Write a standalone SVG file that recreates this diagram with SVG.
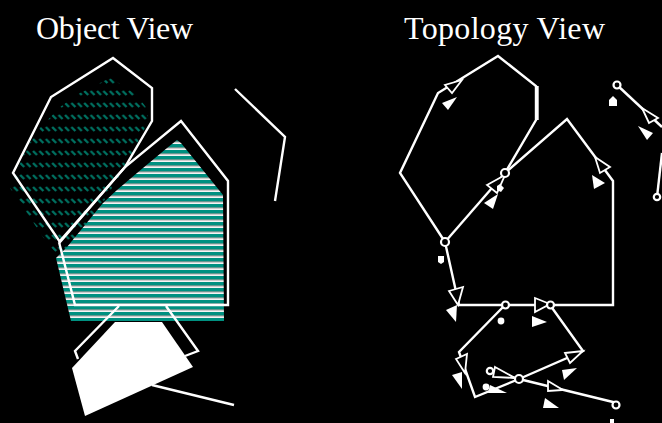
<svg xmlns="http://www.w3.org/2000/svg" width="662" height="423" viewBox="0 0 662 423">
<style>
.t{font-family:"Liberation Serif","Times New Roman",serif;font-size:32px;fill:#fff}
.l{fill:none;stroke:#fff;stroke-width:2.4;stroke-linejoin:miter}
.a{fill:#000;stroke:#fff;stroke-width:1.8}
.s{fill:#fff}
.n{fill:#000;stroke:#fff;stroke-width:2.2}
.m{fill:#fff;stroke:none}
</style>
<defs>
<pattern id="hatch" patternUnits="userSpaceOnUse" width="6.4" height="12">
<path d="M1 7L5 11" stroke="#007060" stroke-width="2.4" fill="none"/>
</pattern>
<pattern id="stripe" patternUnits="userSpaceOnUse" width="6" height="6">
<rect width="6" height="6" fill="#000"/>
<rect width="6" height="3.4" fill="#009080"/>
<rect y="3.4" width="6" height="0.8" fill="#a8d4cc"/>
<rect y="4.2" width="6" height="1.8" fill="#f4f4f4"/>
</pattern>
</defs>
<rect width="662" height="423" fill="#000"/>
<text class="t" x="36" y="39" textLength="157" lengthAdjust="spacing">Object View</text>
<text class="t" x="404" y="39" textLength="201" lengthAdjust="spacing">Topology View</text>
<g id="object-view">
<g id="obj-region-a">
<polygon points="110,78 117,82 137,95 148,110 148,122 125,167 66,262 53,250 43,237 27,213 10,188 25,150 40,128 60,107 80,93" fill="url(#hatch)"/>
<polygon class="l" points="113,58 152,88 152,121 125,167 60,242 13,173 51,97"/>
</g>
<g id="obj-region-b">
<polygon points="177,140 181,143 223,195 224,321 71,321 56,258 67,247 103,203 117,190 137,173 167,148" fill="url(#stripe)"/>
<polyline class="l" points="59,242 125,167 181,121 228,181 228,305 75,305 59,242"/>
</g>
<g id="obj-region-c">
<polyline class="l" points="119,306 75,351 78,359"/>
<polyline class="l" points="166,306 198,351 185,356"/>
<polygon class="s" points="115,322 162,322 193,367 85,416 72,368"/>
<polyline class="l" points="152,385 234,405"/>
</g>
<polyline id="obj-line" class="l" points="235,89 285,137 275,201"/>
</g>
<g id="connectors">
<polyline class="l" points="445,242 400,173 438,93 498,56 536,86 536,120 505,173"/>
<polyline class="l" points="537.5,86 537.5,120"/>
<line class="l" x1="505" y1="173" x2="445" y2="242"/>
<polyline class="l" points="505,173 567,119 613,181 613,305 550,305"/>
<line class="l" x1="550" y1="305" x2="505" y2="305"/>
<polyline class="l" points="445,242 459,305 505,305"/>
<polyline class="l" points="505,305 459,352 475,397 519,379 583,351 550,305"/>
<line class="l" x1="519" y1="379" x2="617" y2="403"/>
<line class="l" x1="519" y1="379" x2="490" y2="371"/>
<line class="l" x1="617" y1="85" x2="662" y2="127"/>
<line class="l" x1="662" y1="153" x2="657" y2="197"/>
</g>
<g id="open-arrows">
<polygon class="a" points="462,80 445,85 452,93"/>
<polygon class="a" points="658,118 649,123 642,108"/>
<polygon class="a" points="595,157 610,167 600,173"/>
<polygon class="a" points="487,185 505,175 497,193"/>
<polygon class="a" points="449,291 463,287 458,305"/>
<polygon class="a" points="535,298 550,304 535,312"/>
<polygon class="a" points="456,359 467,354 465,373"/>
<polygon class="a" points="565,353 583,351 570,363"/>
<polygon class="a" points="548,381 563,390 548,391"/>
<polygon class="a" points="495,367 515,378 493,377"/>
</g>
<g id="solid-arrows">
<polygon class="s" points="457,97 442,103 448,110"/>
<polygon class="s" points="638,126 653,133 647,140"/>
<polygon class="s" points="592,175 605,183 594,189"/>
<polygon class="s" points="498,194 484,203 493,209"/>
<polygon class="s" points="457,305 446,310 456,322"/>
<polygon class="s" points="532,316 547,322 532,327"/>
<polygon class="s" points="452,375 462,372 462,389"/>
<polygon class="s" points="577,368 562,370 564,380"/>
<polygon class="s" points="543,408 545,398 559,408"/>
<polygon class="s" points="490,385 507,393 488,393"/>
</g>
<g id="nodes">
<circle id="n1" class="n" cx="445" cy="242" r="4"/>
<circle id="n2" class="n" cx="505" cy="173" r="4"/>
<circle id="n3" class="n" cx="505.500" cy="305" r="3.5"/>
<circle id="n4" class="n" cx="550.500" cy="305" r="3.5"/>
<circle id="n5" class="n" cx="519" cy="379" r="4"/>
<circle id="n6" class="n" cx="616" cy="405" r="3.500"/>
<circle id="n7" class="n" cx="617" cy="85" r="3.500"/>
<circle id="n8" class="n" cx="657" cy="197" r="3.200"/>
<circle id="n9" class="n" cx="490" cy="371" r="3.200"/>
</g>
<g id="markers">
<path class="m" d="M609 106V100L613 96L617 100V106Z"/>
<path class="m" d="M497 186L500 184L504 188L501 192L497 190Z"/>
<path class="m" d="M438 256H444V262L441 264L438 262Z"/>
<circle class="m" cx="501" cy="321" r="3.400"/>
<circle class="m" cx="486" cy="387" r="3.400"/>
<path class="m" d="M610 423V419H614V423Z"/>
</g>
</svg>
